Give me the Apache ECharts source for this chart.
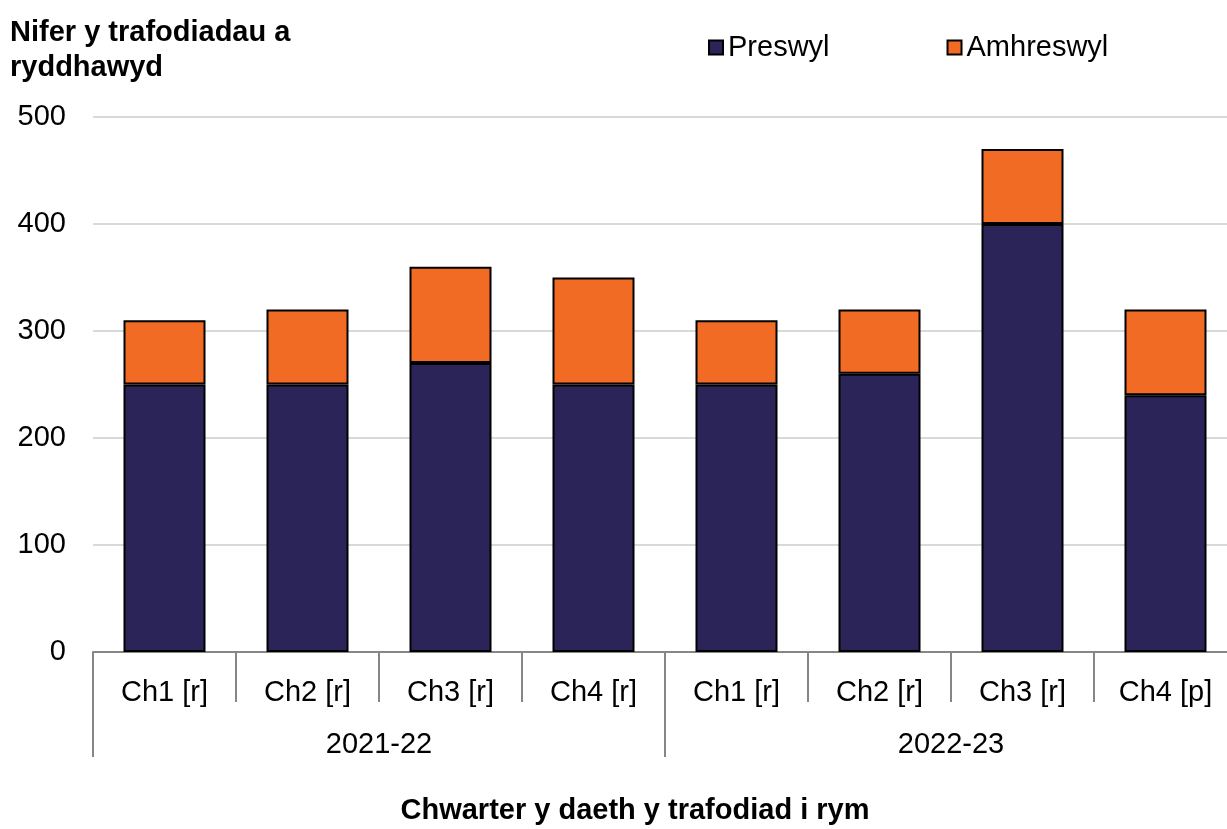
<!DOCTYPE html>
<html>
<head>
<meta charset="utf-8">
<script src="https://cdn.jsdelivr.net/npm/echarts@6/dist/echarts.min.js"></script>
<style>
  html, body { margin: 0; padding: 0; background: #fff; }
  #chart { width: 1227px; height: 829px; }
</style>
</head>
<body>
<div id="chart"></div>
<script>
// chart data
const quarters = ['Ch1 [r]', 'Ch2 [r]', 'Ch3 [r]', 'Ch4 [r]', 'Ch1 [r]', 'Ch2 [r]', 'Ch3 [r]', 'Ch4 [p]'];
const years = ['2021-22', '2022-23'];
const preswyl = [250, 250, 270, 250, 250, 260, 400, 240];
const amhreswyl = [60, 70, 90, 100, 60, 60, 70, 80];
const yTicks = { min: 0, max: 500, interval: 100 };

const font = 'Liberation Sans, Arial, sans-serif';
const chart = echarts.init(document.getElementById('chart'));

const barStyle = (color) => ({
  color,
  borderColor: '#000',
  borderWidth: 2
});

chart.setOption({
  animation: false,
  textStyle: { fontFamily: font },
  title: {
    text: 'Nifer y trafodiadau a\nryddhawyd',
    left: 5,
    top: 10,
    textStyle: { fontSize: 29, fontWeight: 'bold', color: '#000', lineHeight: 35, fontFamily: font }
  },
  legend: {
    left: 703,
    top: 28,
    itemWidth: 14,
    itemHeight: 14,
    itemGap: 117,
    icon: 'rect',
    textStyle: { fontSize: 29, color: '#000' },
    data: ['Preswyl', 'Amhreswyl']
  },
  // the last category runs a little past the right edge in the original
  grid: { left: 93, right: -10, top: 117, bottom: 177, containLabel: false, outerBoundsMode: 'none' },
  xAxis: [
    {
      type: 'category',
      data: quarters,
      axisLine: { lineStyle: { color: '#868686', width: 2 } },
      axisTick: { show: true, length: 50, lineStyle: { color: '#868686', width: 2 } },
      axisLabel: { fontSize: 29, color: '#000', margin: 26 }
    },
    {
      type: 'category',
      position: 'bottom',
      data: years,
      axisLine: { show: false },
      axisTick: { show: true, length: 105, lineStyle: { color: '#868686', width: 2 } },
      axisLabel: { fontSize: 29, color: '#000', margin: 78 },
      name: 'Chwarter y daeth y trafodiad i rym',
      nameLocation: 'middle',
      nameGap: 144,
      // centred on the visible width, not on the grid that runs past the edge
      nameTextStyle: { fontSize: 29, fontWeight: 'bold', color: '#000', padding: [0, 60, 0, 0] }
    }
  ],
  yAxis: {
    type: 'value',
    min: yTicks.min,
    max: yTicks.max,
    interval: yTicks.interval,
    axisLine: { show: false },
    axisTick: { show: false },
    axisLabel: { fontSize: 29, color: '#000', margin: 27 },
    splitLine: { lineStyle: { color: '#d9d9d9', width: 2 } }
  },
  series: [
    {
      name: 'Preswyl',
      type: 'bar',
      stack: 'total',
      barWidth: 82,
      data: preswyl,
      itemStyle: barStyle('#2a2459')
    },
    {
      name: 'Amhreswyl',
      type: 'bar',
      stack: 'total',
      barWidth: 82,
      data: amhreswyl,
      itemStyle: barStyle('#f26b25')
    }
  ]
});
</script>
</body>
</html>
